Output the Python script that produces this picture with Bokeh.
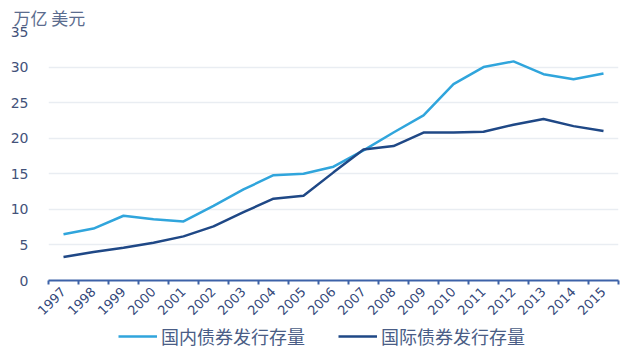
from bokeh.plotting import figure
from bokeh.models import Range1d, FixedTicker, Legend, LegendItem
from bokeh.embed import file_html
from bokeh.resources import INLINE
import math

years = ["1997", "1998", "1999", "2000", "2001", "2002", "2003", "2004", "2005", "2006",
         "2007", "2008", "2009", "2010", "2011", "2012", "2013", "2014", "2015"]
domestic = [6.5, 7.3, 9.1, 8.6, 8.3, 10.5, 12.8, 14.8, 15.0, 16.0,
            18.3, 20.8, 23.2, 27.6, 30.0, 30.8, 29.0, 28.3, 29.1]
international = [3.3, 4.0, 4.6, 5.3, 6.2, 7.6, 9.6, 11.5, 11.9, 15.2,
                 18.4, 18.9, 20.8, 20.8, 20.9, 21.9, 22.7, 21.7, 21.0]
y_ticks = [0, 5, 10, 15, 20, 25, 30, 35]
series_names = ["国内债券发行存量", "国际债券发行存量"]
unit_label = "万亿 美元"
colors = ["#30a5dc", "#1f4886"]

xs = list(range(len(years)))

p = figure(width=640, height=322, output_backend="svg", toolbar_location=None,
           x_range=Range1d(-0.5, len(years) - 0.5), y_range=Range1d(0, 35),
           min_border_left=48, min_border_right=22, min_border_top=31, min_border_bottom=41)
p.outline_line_color = None
p.background_fill_color = "white"

p.title.text = unit_label
p.title.align = "left"
p.title.offset = -35
p.title.text_font = "Noto Sans CJK SC"
p.title.text_font_size = "17px"
p.title.text_font_style = "normal"
p.title.text_color = "#5b6c8e"
p.title.standoff = 4

p.line(xs, domestic, line_color=colors[0], line_width=2.5)
p.line(xs, international, line_color=colors[1], line_width=2.5)

# x axis
xa = p.xaxis[0]
xa.ticker = FixedTicker(ticks=xs, minor_ticks=[i - 0.5 for i in range(len(years) + 1)])
xa.major_label_overrides = {i: y for i, y in enumerate(years)}
xa.major_tick_line_color = None
xa.minor_tick_line_color = "#3d62a8"
xa.minor_tick_line_width = 2
xa.minor_tick_out = 4
xa.minor_tick_in = 0
xa.axis_line_color = "#3d62a8"
xa.axis_line_width = 2
xa.major_label_orientation = math.pi / 4
xa.major_label_text_font = "DejaVu Sans"
xa.major_label_text_font_size = "13px"
xa.major_label_text_color = "#34487a"
xa.major_label_standoff = 3

# y axis
ya = p.yaxis[0]
ya.ticker = FixedTicker(ticks=y_ticks)
ya.axis_line_color = None
ya.major_tick_line_color = None
ya.minor_tick_line_color = None
ya.major_label_text_font = "DejaVu Sans"
ya.major_label_text_font_size = "14px"
ya.major_label_text_color = "#43527a"
ya.major_label_standoff = 14

p.xgrid.grid_line_color = None
p.ygrid.grid_line_color = "#e9edf2"
p.ygrid.grid_line_width = 1.5

# legend strip below the chart (separate root); its ranges keep the series out of view
p2 = figure(width=640, height=34, output_backend="svg", toolbar_location=None,
            x_axis_type=None, y_axis_type=None, min_border=0,
            x_range=Range1d(-100, -99), y_range=Range1d(-100, -99))
p2.outline_line_color = None
p2.grid.visible = False
d1 = p2.line(xs, domestic, line_color=colors[0], line_width=2.5)
d2 = p2.line(xs, international, line_color=colors[1], line_width=2.5)
legend = Legend(items=[LegendItem(label=series_names[0], renderers=[d1]),
                       LegendItem(label=series_names[1], renderers=[d2])],
                location=(118, 7), orientation="horizontal",
                border_line_alpha=0, background_fill_alpha=0, padding=0, margin=0,
                glyph_width=39, glyph_height=20, label_standoff=4, spacing=33,
                label_text_font="Noto Sans CJK SC", label_text_font_size="18px",
                label_text_color="#4a5d86")
p2.add_layout(legend, "center")

open("out.html", "w").write(file_html([p, p2], INLINE))
